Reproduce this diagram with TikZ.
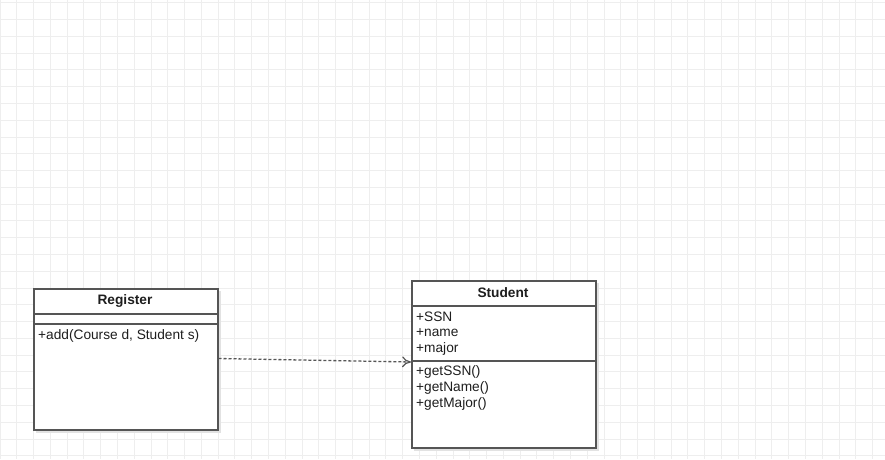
\documentclass[tikz,border=0pt]{standalone}
\usepackage{fontspec}
\setmainfont{Liberation Sans}
\usetikzlibrary{arrows.meta}
\definecolor{gridc}{HTML}{EEEEEE}
\definecolor{linec}{HTML}{555555}
\definecolor{txtc}{HTML}{1E1E1E}
\definecolor{shadc}{HTML}{E2E2E2}
\tikzset{
  umlbox/.style={draw=linec, line width=1.5pt, fill=white, rectangle, inner sep=0pt},
  sepline/.style={draw=linec, line width=1.5pt},
  shad/.style={fill=shadc, draw=none},
  title/.style={font=\fontsize{13.7}{16}\selectfont\bfseries, text=txtc, inner sep=0pt},
  member/.style={font=\fontsize{13.7}{16}\selectfont, text=txtc, inner sep=0pt, anchor=west},
  dep/.style={draw=linec, line width=1.3pt, dash pattern=on 3pt off 2pt, -{To[length=9pt,width=11pt,line width=1.2pt]}}
}
\begin{document}
\begin{tikzpicture}[x=1pt,y=-1pt]
\useasboundingbox (0,0) rectangle (885,459);
\fill[white] (0,0) rectangle (885,459);
% grid
\foreach \i in {0,...,53} {\draw[gridc, line width=1pt] (\i*16.78,0) -- (\i*16.78,459);}
\foreach \j in {0,...,27} {\draw[gridc, line width=1pt] (0,2.8+\j*16.78) -- (885,2.8+\j*16.78);}
% shadows
\fill[shad] (36,291) rectangle (221,433);
\fill[shad] (414,283) rectangle (599,451);
% Register
\node[umlbox, minimum width=184pt, minimum height=141pt, anchor=north west] (reg) at (33,288) {};
\draw[sepline] (33,314) -- (217,314);
\draw[sepline] (33,324) -- (217,324);
\node[title] (regt) at (125,301) {Register};
\node[member] (regm) at (38,336) {+add(Course d, Student s)};
% Student
\node[umlbox, minimum width=184pt, minimum height=167pt, anchor=north west] (stu) at (411,280) {};
\draw[sepline] (411,306) -- (595,306);
\draw[sepline] (411,361) -- (595,361);
\node[title] (stut) at (503,293) {Student};
\node[member] (a1) at (416,316.7) {+SSN};
\node[member] (a2) at (416,332.7) {+name};
\node[member] (a3) at (416,348.5) {+major};
\node[member] (m1) at (416,372) {+getSSN()};
\node[member] (m2) at (416,388) {+getName()};
\node[member] (m3) at (416,404) {+getMajor()};
% dependency
\draw[dep] (reg.east |- 0,358.5) -- (stu.west |- 0,362);
\end{tikzpicture}
\end{document}
